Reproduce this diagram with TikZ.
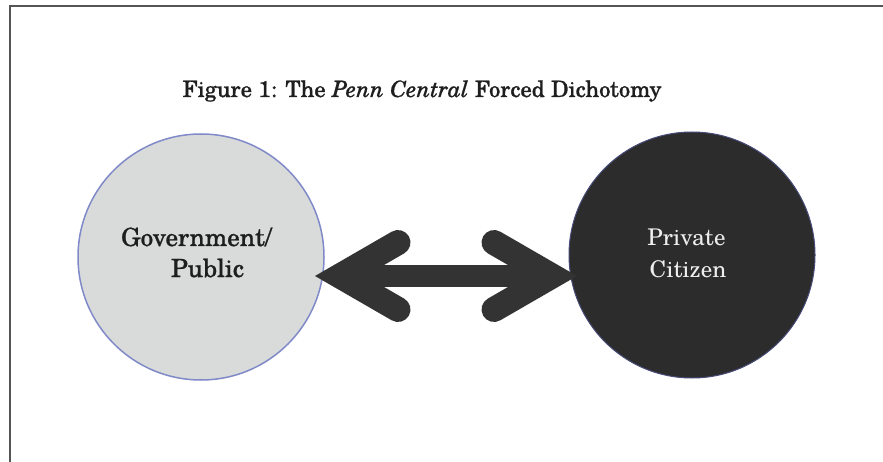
\documentclass[tikz,border=0pt]{standalone}
\usepackage{fontspec}
\setmainfont{TeX Gyre Schola}
\newfontfamily\heavyschola{TeX Gyre Schola}[FakeBold=0.9]
\usetikzlibrary{calc}
\definecolor{framegray}{RGB}{85,85,85}
\definecolor{govfill}{RGB}{217,219,219}
\definecolor{govedge}{RGB}{128,138,200}
\definecolor{citfill}{RGB}{44,44,44}
\definecolor{citedge}{RGB}{70,75,120}
\definecolor{arrowdark}{RGB}{51,51,51}
\definecolor{textdark}{RGB}{30,30,30}
\definecolor{textlight}{RGB}{238,238,238}
\tikzset{
  bigcircle/.style={circle, minimum size=246pt, inner sep=0pt},
  arrowbody/.style={draw=arrowdark},
  titletext/.style={font=\heavyschola\fontsize{22.6}{28}\selectfont, text=textdark, anchor=base},
  govtext/.style={font=\heavyschola\fontsize{25.1}{30}\selectfont, text=textdark, anchor=base, inner sep=0pt},
  cittext/.style={font=\fontsize{23}{30}\selectfont, text=textlight, anchor=base, inner sep=0pt}
}
\begin{document}
\begin{tikzpicture}[x=1pt,y=-1pt]
\useasboundingbox (0,0) rectangle (883,462);
\fill[white] (0,0) rectangle (883,462);
% frame
\draw[framegray, line width=2.5pt] (10,470) -- (10,6) -- (890,6);
% title
\node[titletext] (title) at (422,97) {Figure 1: The \textit{Penn Central} Forced Dichotomy};
% circles
\node[bigcircle, fill=govfill, draw=govedge, line width=1.5pt] (gov) at (201,257) {};
\node[bigcircle, fill=citfill, draw=citedge, line width=1pt] (cit) at (692,255) {};
% circle texts
\node[govtext] (gov1) at ($(gov.center)+(-4.5,-11)$) {Government/};
\node[govtext] (gov2) at ($(gov.center)+(6.5,20)$) {Public};
\node[cittext] (cit1) at ($(cit.center)+(-5.5,-9.5)$) {Private};
\node[cittext] (cit2) at ($(cit.center)+(-4,22)$) {Citizen};
% arrow
\coordinate (lt) at (315,276);
\coordinate (rt) at (577,276);
\draw[arrowbody, line width=21pt] ($(lt)+(25,0)$) -- ($(rt)+(-25,0)$);
\draw[arrowbody, line width=25pt, line cap=round, line join=miter]
  ($(lt)+(83,-33.5)$) -- ($(lt)+(25,0)$) -- ($(lt)+(83,33.5)$);
\draw[arrowbody, line width=25pt, line cap=round, line join=miter]
  ($(rt)+(-83,-33.5)$) -- ($(rt)+(-25,0)$) -- ($(rt)+(-83,33.5)$);
\end{tikzpicture}
\end{document}
